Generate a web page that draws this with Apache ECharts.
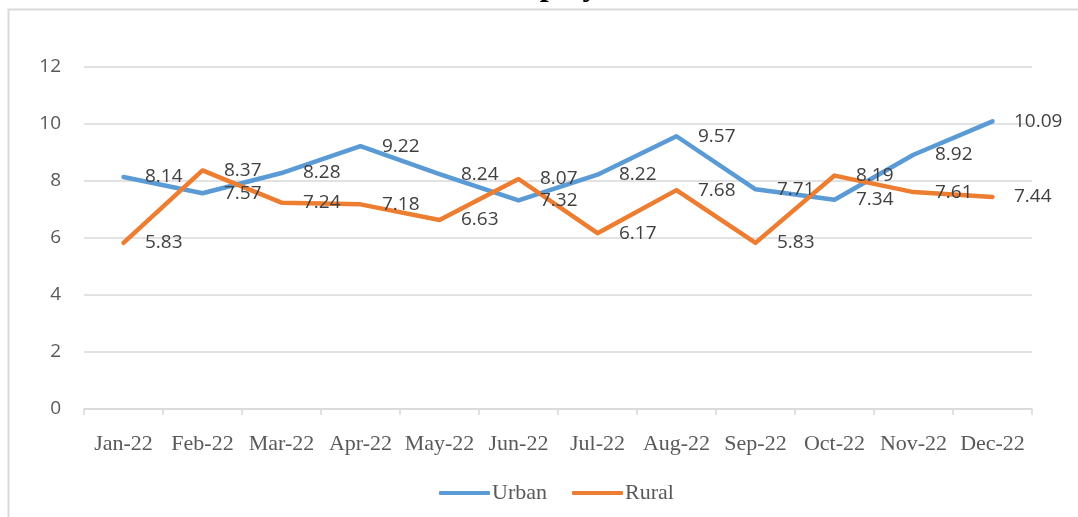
<!DOCTYPE html>
<html>
<head>
<meta charset="utf-8">
<script src="https://cdn.jsdelivr.net/npm/echarts@6/dist/echarts.min.js"></script>
<style>
html,body{margin:0;padding:0;background:#fff;}
#chart{width:1078px;height:517px;}
</style>
</head>
<body>
<div id="chart"></div>
<script>
const categories = ['Jan-22','Feb-22','Mar-22','Apr-22','May-22','Jun-22','Jul-22','Aug-22','Sep-22','Oct-22','Nov-22','Dec-22'];
const urban = [8.14, 7.57, 8.28, 9.22, 8.24, 7.32, 8.22, 9.57, 7.71, 7.34, 8.92, 10.09];
const rural = [5.83, 8.37, 7.24, 7.18, 6.63, 8.07, 6.17, 7.68, 5.83, 8.19, 7.61, 7.44];
const titleText = 'Unemployment Rate';

const chart = echarts.init(document.getElementById('chart'));
const sansFont = '"Open Sans", "Liberation Sans", sans-serif';
const serifFont = '"Liberation Serif", "DejaVu Serif", serif';

function lineSeries(name, data, color) {
  return {
    name: name,
    type: 'line',
    data: data,
    symbol: 'circle',
    symbolSize: 3,
    showSymbol: true,
    itemStyle: { color: color },
    lineStyle: { color: color, width: 4.5, cap: 'round', join: 'round' },
    label: {
      show: true,
      position: 'right',
      distance: 20,
      color: '#404040',
      fontFamily: sansFont,
      fontSize: 19,
      formatter: p => p.value.toFixed(2)
    },
    emphasis: { disabled: true },
    animation: false
  };
}

function legendFor(name, color, left) {
  return {
    data: [{ name: name, icon: 'roundRect', itemStyle: { color: color, opacity: 1 } }],
    top: 477,
    left: left,
    itemWidth: 51,
    itemHeight: 4,
    selectedMode: false,
    textStyle: { fontFamily: serifFont, fontSize: 22, color: '#595959', padding: [0, 0, 0, -3] }
  };
}

chart.setOption({
  animation: false,
  color: ['#5B9BD5', '#ED7D31'],
  graphic: [
    {
      type: 'rect',
      shape: { x: 8.5, y: 9.5, width: 1200, height: 700 },
      style: { fill: 'none', stroke: '#D9D9D9', lineWidth: 2 },
      silent: true
    },
    {
      type: 'text',
      x: 458,
      y: -13,
      style: {
        text: titleText,
        font: 'bold 32px "Liberation Serif", serif',
        fill: '#000',
        textAlign: 'left',
        textVerticalAlign: 'middle'
      },
      silent: true
    }
  ],
  grid: { left: 84, right: 46, top: 67, bottom: 108, containLabel: false },
  legend: [
    legendFor('Urban', '#5B9BD5', 434),
    legendFor('Rural', '#ED7D31', 567)
  ],
  xAxis: {
    type: 'category',
    data: categories,
    boundaryGap: true,
    axisLine: { lineStyle: { color: '#D9D9D9', width: 1.5 } },
    axisTick: { show: true, length: 6, lineStyle: { color: '#D9D9D9', width: 1.5 } },
    axisLabel: { color: '#595959', fontFamily: serifFont, fontSize: 22, margin: 24, interval: 0 }
  },
  yAxis: {
    type: 'value',
    min: 0,
    max: 12,
    interval: 2,
    axisLine: { show: false },
    axisTick: { show: false },
    splitLine: { lineStyle: { color: '#D9D9D9', width: 1.5 } },
    axisLabel: { color: '#595959', fontFamily: sansFont, fontSize: 19, margin: 23 }
  },
  series: [
    lineSeries('Urban', urban, '#5B9BD5'),
    lineSeries('Rural', rural, '#ED7D31')
  ]
});
</script>
</body>
</html>
